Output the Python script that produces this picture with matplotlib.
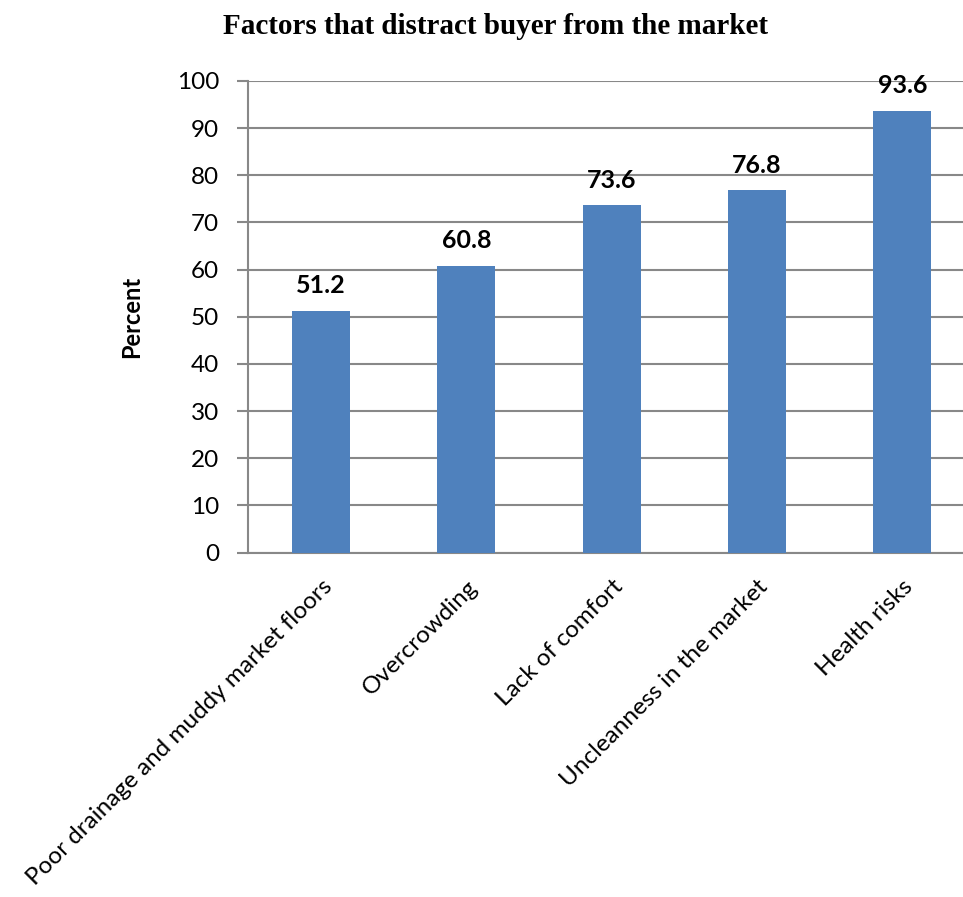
import matplotlib
matplotlib.use('Agg')
import matplotlib.pyplot as plt

# data
factors = [
    "Poor drainage and muddy market floors",
    "Overcrowding",
    "Lack of comfort",
    "Uncleanness in the market",
    "Health risks",
]
percent = [51.2, 60.8, 73.6, 76.8, 93.6]
y_ticks = [0, 10, 20, 30, 40, 50, 60, 70, 80, 90, 100]

BAR_COLOR = '#4F81BD'
GRID_COLOR = '#888888'
SANS = ['Lato', 'DejaVu Sans']

fig = plt.figure(figsize=(9.63, 8.97), dpi=100, facecolor='white')
# plot area runs a little past the right edge, as in the cropped original
ax = fig.add_axes([0.258, 0.384, 0.7545, 0.5257])

x = list(range(len(factors)))
ax.bar(x, percent, width=0.4, color=BAR_COLOR, zorder=3)

for xi, v in zip(x, percent):
    ax.annotate(f'{v:.1f}', (xi, v), xytext=(0, 10), textcoords='offset points',
                ha='center', va='bottom', fontsize=18, fontweight='bold',
                family=SANS, color='black')

ax.set_xlim(-0.5, len(factors) - 0.5)
ax.set_ylim(0, 100)
ax.set_yticks(y_ticks)
ax.set_yticklabels([str(t) for t in y_ticks], family=SANS, fontsize=17.5)
ax.yaxis.grid(True, color=GRID_COLOR, linewidth=1.5, zorder=0)

ax.set_xticks(x)
ax.set_xticklabels(factors, rotation=45, ha='right', va='top',
                   rotation_mode='anchor', family=SANS, fontsize=17.5)
ax.tick_params(axis='x', length=0, pad=17)
ax.tick_params(axis='y', length=8, width=1.5, color=GRID_COLOR, pad=13)

for side in ['top', 'right']:
    ax.spines[side].set_visible(False)
ax.spines['left'].set_color(GRID_COLOR)
ax.spines['left'].set_linewidth(1.5)
ax.spines['bottom'].set_color(GRID_COLOR)
ax.spines['bottom'].set_linewidth(1.5)

ax.set_ylabel('Percent', family=SANS, fontsize=17, fontweight='bold', labelpad=24)

fig.text(0.515, 0.971, 'Factors that distract buyer from the market',
         ha='center', va='center', family=['Liberation Serif', 'DejaVu Serif'],
         fontsize=21, fontweight='bold')

fig.savefig('out.png', dpi=100, facecolor='white')
